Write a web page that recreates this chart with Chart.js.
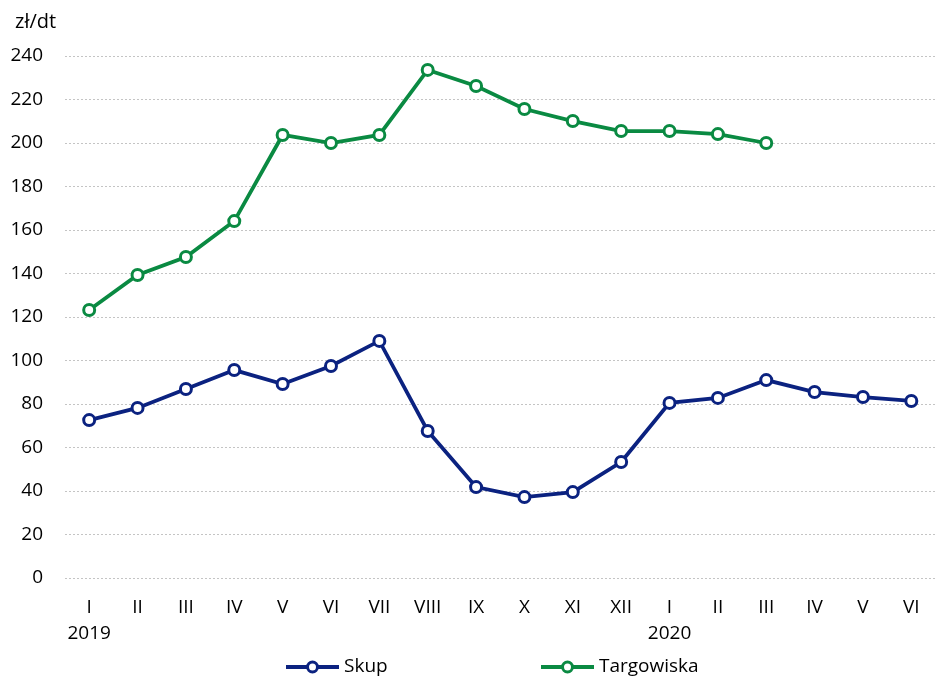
<!DOCTYPE html>
<html><head><meta charset="utf-8">
<script src="https://cdn.jsdelivr.net/npm/chart.js@4/dist/chart.umd.min.js"></script>
<style>html,body{margin:0;padding:0;background:#fff}#wrap{width:944px;height:679px;position:relative}</style>
</head><body><div id="wrap"><canvas id="c" width="944" height="679"></canvas></div>
<script>
const months = ['I','II','III','IV','V','VI','VII','VIII','IX','X','XI','XII','I','II','III','IV','V','VI'];
const years = {0:'2019', 12:'2020'};
const skup = [72.6,78.2,86.9,95.6,89.2,97.5,109,67.6,41.8,37.2,39.5,53.3,80.5,82.8,91,85.5,83.2,81.4];
const targowiska = [123.2,139.3,147.6,164.1,203.7,200,203.7,233.6,226.2,215.6,210.1,205.5,205.5,204.1,200,null,null,null];
const yTicks = [0,20,40,60,80,100,120,140,160,180,200,220,240];
const unit = 'zł/dt';
const seriesNames = ['Skup','Targowiska'];
const colors = ['#0b2280','#0a8a42'];

const FONT = "'Open Sans', sans-serif";
const labels = months.map((m,i)=> years[i] ? [m, years[i]] : [m, '']);

const extras = {
  id:'extras',
  afterDraw(chart){
    const ctx = chart.ctx;
    ctx.save();
    ctx.fillStyle = '#000';
    ctx.font = '20px ' + FONT;
    ctx.textBaseline = 'middle';
    ctx.textAlign = 'left';
    ctx.fillText(unit, 15, 22);
    ctx.font = '19px ' + FONT;
    const items = [{x:286, name:seriesNames[0], c:colors[0]},{x:541, name:seriesNames[1], c:colors[1]}];
    const ly = 667;
    items.forEach(it=>{
      ctx.strokeStyle = it.c; ctx.lineWidth = 4;
      ctx.beginPath(); ctx.moveTo(it.x, ly); ctx.lineTo(it.x+53, ly); ctx.stroke();
      ctx.beginPath(); ctx.arc(it.x+26.5, ly, 5, 0, Math.PI*2);
      ctx.fillStyle = '#fff'; ctx.fill(); ctx.lineWidth = 3; ctx.stroke();
      ctx.fillStyle = '#000';
      ctx.fillText(it.name, it.x+58, ly);
    });
    ctx.restore();
  }
};

new Chart(document.getElementById('c'), {
  type:'line',
  data:{
    labels: labels,
    datasets:[
      {label:seriesNames[0], data:skup, borderColor:colors[0], backgroundColor:'#fff', borderWidth:3.8,
       pointRadius:5.5, pointBorderWidth:3, pointBackgroundColor:'#fff', pointBorderColor:colors[0], tension:0},
      {label:seriesNames[1], data:targowiska, borderColor:colors[1], backgroundColor:'#fff', borderWidth:3.8,
       pointRadius:5.5, pointBorderWidth:3, pointBackgroundColor:'#fff', pointBorderColor:colors[1], tension:0, spanGaps:false}
    ]
  },
  options:{
    responsive:false, animation:false,
    layout:{padding:{top:56,right:0,left:0,bottom:0}},
    plugins:{legend:{display:false}, tooltip:{enabled:false}},
    scales:{
      x:{
        offset:true,
        grid:{display:false, drawTicks:false},
        border:{display:false},
        ticks:{color:'#000', font:{family:FONT, size:19, lineHeight:1.4}, padding:16, maxRotation:0, autoSkip:false},
        afterFit(s){ s.height = 101; }
      },
      y:{
        min:0, max:240,
        afterBuildTicks(s){ s.ticks = yTicks.map(v=>({value:v})); },
        grid:{color:'#c4c4c4', lineWidth:1, drawTicks:false},
        border:{display:false, dash:[2,2]},
        ticks:{color:'#000', font:{family:FONT, size:19}, padding:22},
        afterFit(s){ s.width = 65; }
      }
    }
  },
  plugins:[extras]
});
</script></body></html>
